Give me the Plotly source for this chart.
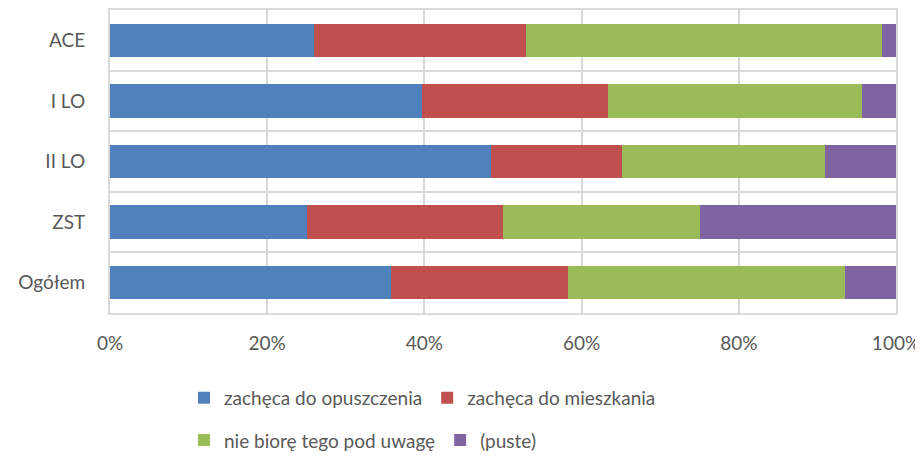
import plotly.graph_objects as go

categories = ["ACE", "I LO", "II LO", "ZST", "Ogółem"]
series_names = ["zachęca do opuszczenia", "zachęca do mieszkania",
                "nie biorę tego pod uwagę", "(puste)"]
opuszczenia = [25.9, 39.7, 48.5, 25.0, 35.8]
mieszkania = [27.0, 23.6, 16.7, 25.0, 22.5]
nie_biore = [45.3, 32.4, 25.8, 25.0, 35.2]
puste = [1.8, 4.3, 9.0, 25.0, 6.5]
tick_vals = [0, 20, 40, 60, 80, 100]
tick_text = ["0%", "20%", "40%", "60%", "80%", "100%"]

colors = ["#4F81BD", "#C0504D", "#9BBB59", "#8064A2"]
FONT = "Lato"
TXT = "#595959"

fig = go.Figure()
for i, (name, vals) in enumerate(zip(series_names, [opuszczenia, mieszkania, nie_biore, puste])):
    fig.add_trace(go.Bar(
        y=categories, x=vals, name=name, orientation="h",
        marker=dict(color=colors[i], line=dict(width=0)),
        legend="legend" if i < 2 else "legend2",
    ))

LX = (184 - 110) / 786
fig.update_layout(
    width=915, height=448,
    barmode="stack", bargap=0.45,
    paper_bgcolor="white", plot_bgcolor="white",
    margin=dict(l=102, r=27, t=2, b=143, autoexpand=False),
    font=dict(family=FONT, size=19, color=TXT),
    legend=dict(orientation="h", x=LX, y=-0.28, xanchor="left", yanchor="middle",
                font=dict(family=FONT, size=19, color=TXT), bgcolor="rgba(0,0,0,0)",
                traceorder="normal", itemwidth=30),
    legend2=dict(orientation="h", x=LX, y=-0.42, xanchor="left", yanchor="middle",
                 font=dict(family=FONT, size=19, color=TXT), bgcolor="rgba(0,0,0,0)",
                 traceorder="normal", itemwidth=30),
    xaxis=dict(range=[0, 100], tickvals=tick_vals, ticktext=tick_text,
               showgrid=True, gridcolor="#D9D9D9", gridwidth=2,
               showline=True, linecolor="#D9D9D9", linewidth=2, mirror=True,
               zeroline=False, ticks="", ticklabelstandoff=12, automargin=False,
               tickfont=dict(family=FONT, size=19, color=TXT)),
    yaxis=dict(categoryorder="array", categoryarray=categories, autorange="reversed",
               tickson="boundaries", showgrid=True, gridcolor="#D9D9D9", gridwidth=2,
               showline=True, linecolor="#D9D9D9", linewidth=2, mirror=True,
               ticks="", ticklabelstandoff=19, automargin=False,
               tickfont=dict(family=FONT, size=19, color=TXT)),
    annotations=[dict(text="C", xref="paper", yref="paper", x=(913 - 110) / 786, y=0.086,
                      xanchor="left", yanchor="middle", showarrow=False,
                      font=dict(family=FONT, size=19, color=TXT))],
)

fig.write_html("out.html")
